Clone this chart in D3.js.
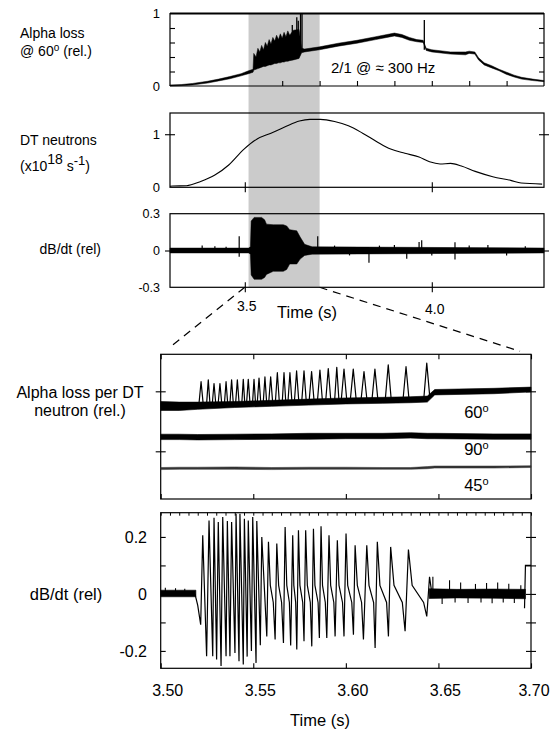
<!DOCTYPE html>
<html><head><meta charset="utf-8">
<script src="https://cdn.jsdelivr.net/npm/d3@7"></script>
<style>
body{margin:0;background:#fff}
svg{display:block}
text{font-family:"Liberation Sans",Arial,Helvetica,sans-serif;fill:#000}
</style>
</head><body>
<svg id="c" width="552" height="730"></svg>
<script>
// ---------------- DATA ----------------
// Panel 1: alpha loss @60deg, noisy band (lower / upper envelope)
const alphaT  = [3.30,3.33,3.36,3.40,3.43,3.46,3.49,3.51,3.522,3.524,3.530,3.535,3.540,3.545,3.550,3.555,3.560,3.565,3.570,3.575,3.580,3.585,3.590,3.595,3.600,3.605,3.610,3.615,3.620,3.630,3.645,3.652,3.66,3.70,3.75,3.80,3.85,3.88,3.90,3.92,3.94,3.96,3.977,3.985,4.00,4.05,4.09,4.10,4.115,4.125,4.14,4.16,4.18,4.20,4.22,4.24,4.27,4.30];
const alphaLo = [0.00,0.005,0.015,0.04,0.07,0.10,0.14,0.17,0.19,0.22,0.23,0.24,0.25,0.26,0.27,0.27,0.28,0.29,0.29,0.30,0.31,0.31,0.32,0.32,0.33,0.33,0.34,0.34,0.35,0.36,0.38,0.46,0.47,0.50,0.55,0.59,0.64,0.67,0.69,0.67,0.63,0.61,0.60,0.49,0.47,0.44,0.43,0.45,0.44,0.36,0.29,0.25,0.21,0.16,0.125,0.095,0.075,0.06];
const alphaHi = [0.015,0.02,0.035,0.065,0.095,0.13,0.17,0.21,0.23,0.45,0.40,0.52,0.47,0.56,0.50,0.60,0.55,0.64,0.58,0.67,0.62,0.70,0.64,0.72,0.66,0.74,0.68,0.76,0.70,0.77,0.78,0.52,0.51,0.54,0.59,0.63,0.68,0.71,0.73,0.71,0.67,0.64,0.63,0.52,0.50,0.47,0.47,0.48,0.47,0.39,0.32,0.28,0.23,0.19,0.15,0.12,0.095,0.075];
const alphaSpikeT = [3.627,3.639,3.643,3.649,3.653,3.980];
const alphaSpikeV = [0.84,0.95,0.90,1.00,1.00,0.91];
const alphaTicks = [0.2,0.4,0.6,0.8];
const topTimeTicks = [3.6,3.7,3.8,3.9,4.0,4.1,4.2];

// Panel 2: DT neutrons (x10^18 s^-1)
const dtT = [3.30,3.307,3.344,3.382,3.420,3.457,3.498,3.533,3.570,3.608,3.646,3.674,3.702,3.740,3.777,3.815,3.853,3.890,3.928,3.966,3.994,4.022,4.050,4.079,4.116,4.163,4.211,4.239,4.295];
const dtV = [0.02,0.025,0.03,0.11,0.23,0.42,0.72,0.91,1.02,1.14,1.25,1.28,1.28,1.24,1.16,1.02,0.86,0.72,0.64,0.57,0.48,0.44,0.45,0.40,0.30,0.20,0.13,0.08,0.06];

// Panel 3: dB/dt envelope and isolated spikes
const dbT  = [3.30,3.51,3.515,3.517,3.525,3.545,3.553,3.558,3.576,3.603,3.612,3.62,3.639,3.648,3.66,3.68,4.30];
const dbLo = [-0.02,-0.02,-0.03,-0.20,-0.235,-0.235,-0.22,-0.195,-0.17,-0.17,-0.155,-0.11,-0.11,-0.07,-0.04,-0.03,-0.02];
const dbHi = [0.02,0.02,0.03,0.24,0.27,0.27,0.25,0.215,0.21,0.21,0.20,0.17,0.16,0.11,0.05,0.03,0.02];
const dbSpikeT = [3.386,3.42,3.45,3.485,3.485,3.695,3.74,3.78,3.832,3.86,3.90,3.933,3.966,3.973,4.00,4.062,4.062,4.10,4.15,4.20,4.25];
const dbSpikeV = [0.04,0.035,0.03,0.117,-0.05,0.117,0.04,-0.04,-0.10,0.04,0.045,-0.068,0.07,0.084,-0.04,-0.073,0.068,0.04,0.045,-0.04,0.035];
const dbTicks = [-0.3,0,0.3];

// Zoom panel A: alpha loss per DT neutron (three detectors, offset)
const aBandT = [3.500,3.510,3.520,3.540,3.560,3.580,3.600,3.620,3.635,3.644,3.648,3.680,3.700];
const a60Lo = [0.68,0.68,0.70,0.73,0.75,0.77,0.79,0.80,0.81,0.82,0.94,0.96,0.99];
const a60Hi = [0.83,0.82,0.82,0.83,0.85,0.87,0.89,0.90,0.91,0.92,1.03,1.05,1.07];
const a60PkT = [3.5218,3.5257,3.5288,3.5320,3.5353,3.5383,3.5414,3.5446,3.5473,3.5504,3.5531,3.5563,3.5594,3.5630,3.5666,3.5698,3.5734,3.5774,3.5815,3.5860,3.5905,3.5951,3.5990,3.6040,3.6098,3.6157,3.6229,3.6325,3.6437];
const a60PkV = [1.16,1.19,1.13,1.13,1.16,1.19,1.19,1.20,1.20,1.20,1.22,1.24,1.24,1.31,1.31,1.31,1.34,1.34,1.33,1.355,1.38,1.40,1.37,1.37,1.33,1.37,1.44,1.41,1.47];
const a90Lo = [0.195,0.195,0.19,0.195,0.20,0.20,0.21,0.21,0.22,0.21,0.21,0.20,0.20];
const a90Hi = [0.285,0.285,0.28,0.285,0.29,0.30,0.30,0.30,0.31,0.30,0.30,0.29,0.29];
const a45Lo = [-0.305,-0.30,-0.30,-0.30,-0.305,-0.30,-0.30,-0.30,-0.30,-0.29,-0.28,-0.28,-0.27];
const a45Hi = [-0.27,-0.265,-0.265,-0.26,-0.27,-0.265,-0.265,-0.27,-0.27,-0.255,-0.245,-0.245,-0.24];

// Zoom panel B: dB/dt noise bands, noise spikes and oscillation vertices
const bPreT  = [3.500,3.519];
const bPreLo = [-0.01,-0.01];
const bPreHi = [0.013,0.013];
const bPostT  = [3.645,3.66,3.68,3.697];
const bPostLo = [-0.016,-0.014,-0.015,-0.017];
const bPostHi = [0.018,0.016,0.017,0.016];
const bNoiseSpT = [3.5025,3.5080,3.5130,3.6470,3.6520,3.6560,3.6590,3.6620,3.6660,3.6700,3.6730,3.6760,3.6790,3.6820,3.6850,3.6880,3.6910,3.6945];
const bNoiseSpV = [0.022,0.02,0.018,0.06,-0.035,0.048,-0.03,0.04,-0.032,0.035,-0.03,0.038,-0.033,0.04,-0.03,0.036,-0.032,0.03];
const bT = [3.5185,3.5200,3.5216,3.5227,3.5248,3.5261,3.5281,3.5288,3.5302,3.5311,3.5326,3.5335,3.5353,3.5360,3.5374,3.5383,3.5401,3.5407,3.5423,3.5428,3.5446,3.5452,3.5467,3.5473,3.5490,3.5497,3.5515,3.5519,3.5538,3.5546,3.5573,
  3.5582,3.5592,3.5608,3.5618,3.5627,3.5637,3.5653,3.5663,3.5672,3.5681,3.5695,3.5702,3.5713,3.5719,3.5729,3.5735,3.5744,3.5752,3.5767,3.5774,3.5783,3.5792,3.5808,3.5816,3.5825,3.5833,3.5850,3.5857,3.5866,3.5874,3.5889,3.5897,
  3.5909,3.5918,3.5935,3.5942,3.5954,3.5963,3.5982,3.5990,3.6001,3.6010,3.6032,3.6041,3.6050,3.6062,3.6085,3.6095,3.6113,3.6125,3.6150,3.6158,3.6170,3.6184,3.6220,3.6230,3.6242,3.6260,3.6305,3.6320,3.6338,3.6358,3.6420,3.6437,3.6452,3.6465];
const bV = [0.0,-0.04,-0.108,0.206,-0.219,0.258,-0.219,0.267,-0.230,0.252,-0.253,0.270,-0.219,0.256,-0.219,0.252,-0.207,0.281,-0.236,0.281,-0.248,0.264,-0.22,0.258,-0.20,0.270,-0.242,0.256,-0.18,0.20,-0.149,
  0.183,0.03,-0.03,-0.160,0.177,0.03,-0.03,-0.172,0.235,0.03,-0.03,-0.181,0.206,0.03,-0.03,-0.195,0.223,0.03,-0.03,-0.166,0.223,0.03,-0.03,-0.184,0.229,0.03,-0.03,-0.155,0.237,0.03,-0.03,-0.155,
  0.206,0.03,-0.03,-0.149,0.188,0.03,-0.03,-0.149,0.212,0.03,-0.03,-0.143,0.171,0.03,-0.03,-0.160,0.171,0.03,-0.03,-0.190,0.183,0.03,-0.03,-0.149,0.165,0.03,-0.03,-0.131,0.156,0.03,-0.03,-0.079,0.06,0.0];
const bStepT = [3.6965,3.6970,3.700];
const bStepV = [-0.05,0.10,0.10];
const bTicks = [-0.2,-0.1,0,0.1,0.2];
const bTickLabels = ["-0.2","","0","","0.2"];
const zoomTimeTicks = [3.50,3.55,3.60,3.65,3.70];
const shade = [3.51,3.70];

// ---------------- DRAW ----------------
const svg = d3.select("#c");
const xT = d3.scaleLinear().domain([3.3,4.3]).range([170,544]);
const y1 = d3.scaleLinear().domain([0,1]).range([86,13.5]);
const y2 = d3.scaleLinear().domain([0,1.4]).range([187.3,113]);
const y3 = d3.scaleLinear().domain([-0.3,0.3]).range([287.3,213.7]);
const xB = d3.scaleLinear().domain([3.5,3.7]).range([160.7,531]);
const yA = d3.scaleLinear().domain([-0.795,1.617]).range([499,354.3]);
const yB = d3.scaleLinear().domain([-0.261,0.285]).range([668.3,512.7]);

svg.append("rect").attr("x",xT(shade[0])).attr("y",y1(1)).attr("width",xT(shade[1])-xT(shade[0]))
  .attr("height",y3(-0.3)-y1(1)).attr("fill","#cbcbcb");

function frame(x0,x1,yy0,yy1,sw){
  svg.append("rect").attr("x",x0).attr("y",yy0).attr("width",x1-x0).attr("height",yy1-yy0)
    .attr("fill","none").attr("stroke","#000").attr("stroke-width",sw||1.2);
}
function ticksX(scale,vals,yPos,up,down,sw){
  const g = svg.append("g").attr("transform",`translate(0,${yPos})`)
    .call(d3.axisBottom(scale).tickValues(vals).tickSize(0).tickFormat(""));
  g.select(".domain").remove();
  g.selectAll(".tick line").attr("y1",-up).attr("y2",down).attr("stroke","#000").attr("stroke-width",sw||1.1);
}
function ticksY(scale,vals,xPos,left,right){
  const g = svg.append("g").attr("transform",`translate(${xPos},0)`)
    .call(d3.axisLeft(scale).tickValues(vals).tickSize(0).tickFormat(""));
  g.select(".domain").remove();
  g.selectAll(".tick line").attr("x1",-left).attr("x2",right).attr("stroke","#000").attr("stroke-width",1.1);
}
function labelsY(scale,vals,texts,xPos,fs){
  svg.append("g").selectAll("text").data(vals).join("text")
    .attr("x",xPos).attr("y",d=>scale(d)).attr("dy","0.36em").attr("text-anchor","end")
    .attr("font-size",fs).text((d,i)=>texts[i]);
}
function band(xs,t,lo,hi,ys){
  return d3.area().x((d,i)=>xs(t[i])).y0((d,i)=>ys(lo[i])).y1((d,i)=>ys(hi[i]))(t);
}

// ---- Panel 1
svg.append("path").attr("d",band(xT,alphaT,alphaLo,alphaHi,y1)).attr("fill","#000").attr("stroke","#000").attr("stroke-width",0.5);
svg.append("g").selectAll("line").data(alphaSpikeT).join("line")
  .attr("x1",d=>xT(d)).attr("x2",d=>xT(d)).attr("y1",(d,i)=>y1(alphaSpikeV[i]))
  .attr("y2",y1(0.5)).attr("stroke","#000").attr("stroke-width",1.3);
svg.append("path").attr("d",`M${xT(3.3)},${y1(0)}V${y1(1)}H${xT(4.3)}V${y1(0)}`).attr("fill","none").attr("stroke","#000").attr("stroke-width",1.2);
svg.append("line").attr("x1",xT(3.3)).attr("x2",xT(4.3)).attr("y1",y1(0)).attr("y2",y1(0)).attr("stroke","#000").attr("stroke-width",1.2);
svg.append("line").attr("x1",xT(3.3)).attr("x2",xT(4.3)).attr("y1",y1(1)).attr("y2",y1(1)).attr("stroke","#000").attr("stroke-width",2);
ticksY(y1,alphaTicks,xT(3.3),0,5);
ticksY(y1,alphaTicks,xT(4.3),5,0);
ticksX(xT,topTimeTicks,y1(0),5,0);
labelsY(y1,[0,1],["0","1"],160,13);
svg.append("text").attr("x",331).attr("y",73).attr("font-size",15).text("2/1 @ \u2248 300 Hz");

// ---- Panel 2
frame(xT(3.3),xT(4.3),y2(1.4),y2(0));
svg.append("path").attr("d",d3.line().x((d,i)=>xT(dtT[i])).y((d,i)=>y2(dtV[i])).curve(d3.curveMonotoneX)(dtT))
  .attr("fill","none").attr("stroke","#000").attr("stroke-width",1.1);
ticksX(xT,[3.5,4.0],y2(0),5,5);
ticksY(y2,[1],xT(3.3),5,5);
ticksY(y2,[1],xT(4.3),5,5);
labelsY(y2,[0,1],["0","1"],160,13);

// ---- Panel 3
frame(xT(3.3),xT(4.3),y3(0.3),y3(-0.3));
svg.append("path").attr("d",band(xT,dbT,dbLo,dbHi,y3)).attr("fill","#000").attr("stroke","#000").attr("stroke-width",0.5);
svg.append("g").selectAll("line").data(dbSpikeT).join("line")
  .attr("x1",d=>xT(d)).attr("x2",d=>xT(d)).attr("y1",y3(0)).attr("y2",(d,i)=>y3(dbSpikeV[i]))
  .attr("stroke","#000").attr("stroke-width",1.2);
ticksX(xT,[3.5,4.0],y3(-0.3),5,5);
ticksY(y3,[0],xT(3.3),5,5);
ticksY(y3,[0],xT(4.3),5,5);
labelsY(y3,dbTicks,["-0.3","0","0.3"],160,12.5);
svg.append("text").attr("x",xT(3.5)+2).attr("y",311).attr("font-size",14).attr("text-anchor","middle").text("3.5");
svg.append("text").attr("x",xT(4.0)+3).attr("y",314).attr("font-size",14).attr("text-anchor","middle").text("4.0");
svg.append("text").attr("x",307).attr("y",318).attr("font-size",16.5).attr("text-anchor","middle").text("Time (s)");

// dashed zoom connectors
const dash = [[xT(3.5),y3(-0.3),xB(3.5)+8,yA(1.617)-6],[xT(3.7),y3(-0.3),xB(3.7)-11,yA(1.617)-3]];
svg.append("g").selectAll("line").data(dash).join("line")
  .attr("x1",d=>d[0]).attr("y1",d=>d[1]).attr("x2",d=>d[2]).attr("y2",d=>d[3])
  .attr("stroke","#000").attr("stroke-width",1.2).attr("stroke-dasharray","8,6");

// ---- Panel A
frame(xB(3.5),xB(3.7),yA(1.617),yA(-0.795));
svg.append("path").attr("d",band(xB,aBandT,a60Lo,a60Hi,yA)).attr("fill","#000").attr("stroke","#000").attr("stroke-width",0.6);
svg.append("path").attr("d",band(xB,aBandT,a90Lo,a90Hi,yA)).attr("fill","#000").attr("stroke","#000").attr("stroke-width",0.6);
svg.append("path").attr("d",band(xB,aBandT,a45Lo,a45Hi,yA)).attr("fill","#333").attr("stroke","#333").attr("stroke-width",0.5);
const a60Top = d3.scaleLinear().domain(aBandT).range(a60Hi);
svg.append("g").selectAll("path").data(a60PkT).join("path")
  .attr("d",(d,i)=>{
    const nxt = i<a60PkT.length-1 ? a60PkT[i+1]-d : 0.006;
    const w = Math.min(0.0016, 0.3*nxt);
    return d3.line()([[xB(d-w),yA(a60Top(d-w)-0.04)],[xB(d),yA(a60PkV[i])],[xB(d+w),yA(a60Top(d+w)-0.04)]]);
  })
  .attr("fill","none").attr("stroke","#000").attr("stroke-width",1.2).attr("stroke-linejoin","round");
ticksX(xB,zoomTimeTicks,yA(1.617),0,5);
ticksX(xB,zoomTimeTicks,yA(-0.795),5,0);
ticksY(yA,[0,1],xB(3.5),5,5);
ticksY(yA,[0,1],xB(3.7),5,5);
const deg = (x,y,n)=>{const t=svg.append("text").attr("x",x).attr("y",y).attr("font-size",16.5).attr("text-anchor","middle");
  t.append("tspan").text(n); t.append("tspan").attr("font-size",11).attr("dy",-6).text("o");};
deg(xB(3.6705),418,"60");
deg(xB(3.6705),455,"90");
deg(xB(3.6705),491,"45");

// ---- Panel B
frame(xB(3.5),xB(3.7),yB(0.285),yB(-0.261));
svg.append("path").attr("d",band(xB,bPreT,bPreLo,bPreHi,yB)).attr("fill","#000").attr("stroke","#000").attr("stroke-width",0.6);
svg.append("path").attr("d",band(xB,bPostT,bPostLo,bPostHi,yB)).attr("fill","#000").attr("stroke","#000").attr("stroke-width",0.6);
svg.append("g").selectAll("line").data(bNoiseSpT).join("line")
  .attr("x1",d=>xB(d)).attr("x2",d=>xB(d)).attr("y1",yB(0)).attr("y2",(d,i)=>yB(bNoiseSpV[i]))
  .attr("stroke","#000").attr("stroke-width",1.1);
svg.append("path").attr("d",d3.line().x((d,i)=>xB(bT[i])).y((d,i)=>yB(bV[i]))(bT))
  .attr("fill","none").attr("stroke","#000").attr("stroke-width",1.2).attr("stroke-linejoin","miter").attr("stroke-miterlimit",3);
svg.append("path").attr("d",d3.line().x((d,i)=>xB(bStepT[i])).y((d,i)=>yB(bStepV[i]))(bStepT))
  .attr("fill","none").attr("stroke","#000").attr("stroke-width",1.2);
ticksX(xB,d3.range(0,41).map(i=>3.5+i*0.005),yB(0.285),0,3,1);
ticksX(xB,zoomTimeTicks,yB(-0.261),5,0);
ticksY(yB,bTicks,xB(3.5),0,5);
ticksY(yB,bTicks,xB(3.7),5,5);
labelsY(yB,bTicks,bTickLabels,147,16);
svg.append("g").selectAll("text").data(zoomTimeTicks).join("text")
  .attr("x",d=>xB(d)+(d>3.69?3:7)).attr("y",696).attr("font-size",16).attr("text-anchor","middle").text(d=>d.toFixed(2));
svg.append("text").attr("x",320).attr("y",726).attr("font-size",16.5).attr("text-anchor","middle").text("Time (s)");

// ---- left titles
const t1 = svg.append("text").attr("font-size",14);
t1.append("tspan").attr("x",20).attr("y",38).text("Alpha loss");
t1.append("tspan").attr("x",20).attr("y",55.5).text("@ 60");
t1.append("tspan").attr("font-size",10).attr("dy",-5).text("o");
t1.append("tspan").attr("dy",5).text(" (rel.)");
const t2 = svg.append("text").attr("font-size",14);
t2.append("tspan").attr("x",20).attr("y",145).text("DT neutrons");
t2.append("tspan").attr("x",20).attr("y",171).text("(x10");
t2.append("tspan").attr("dy",-7).attr("font-size",14).text("18");
t2.append("tspan").attr("dy",7).text(" s");
t2.append("tspan").attr("dy",-6).attr("font-size",13).text("-1");
t2.append("tspan").attr("dy",6).text(")");
svg.append("text").attr("x",101).attr("y",254).attr("font-size",14).attr("text-anchor","end").text("dB/dt (rel)");
svg.append("text").attr("x",80).attr("y",397.5).attr("font-size",16).attr("text-anchor","middle").text("Alpha loss per DT");
svg.append("text").attr("x",80).attr("y",416).attr("font-size",16).attr("text-anchor","middle").text("neutron (rel.)");
svg.append("text").attr("x",66).attr("y",600).attr("font-size",16.5).attr("text-anchor","middle").text("dB/dt (rel)");
</script>
</body></html>
